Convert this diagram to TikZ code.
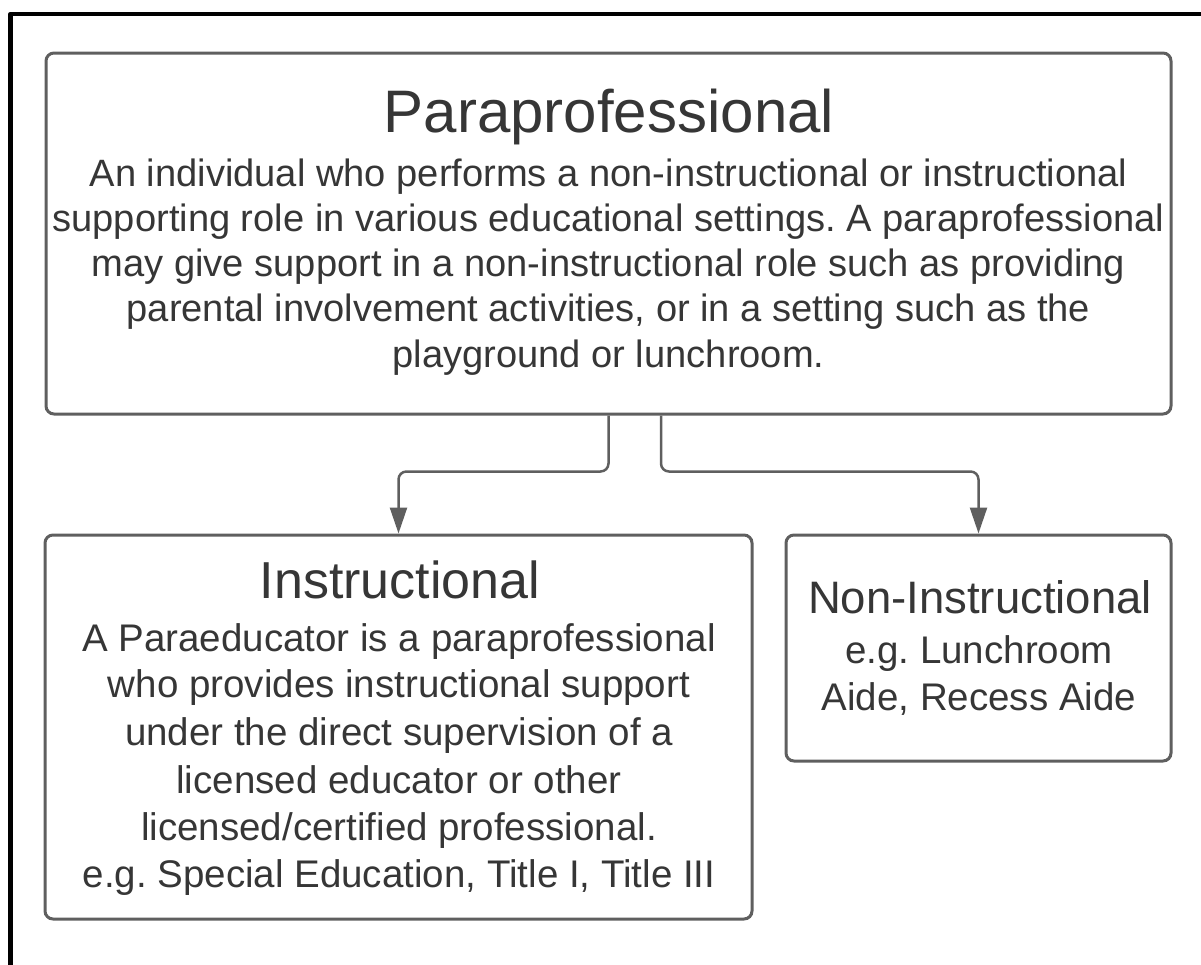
\documentclass[tikz,border=0pt]{standalone}
\usepackage{fontspec}
\setmainfont{Liberation Sans}
\usetikzlibrary{arrows.meta}
\definecolor{edge}{HTML}{5F5F5F}
\definecolor{txt}{HTML}{363636}
\frenchspacing
\tikzset{
  box/.style={draw=edge, line width=3pt, rounded corners=8pt, inner sep=0pt, fill=white},
  conn/.style={draw=edge, line width=2.5pt, rounded corners=8pt,
    -{Triangle[length=26pt, width=17pt, fill=edge]}},
  ttl/.style={anchor=base, inner sep=0pt, text=txt},
  ln/.style={anchor=base, inner sep=0pt, text=txt, font=\fontsize{38.5}{46}\selectfont},
  lntop/.style={ln, font=\fontsize{38.1}{46}\selectfont},
}
\begin{document}
\begin{tikzpicture}[x=1pt,y=-1pt]
\useasboundingbox (0,0) rectangle (1201,964);
% outer frame
\draw[line width=4.5pt, black, line join=round] (10.5,966) -- (10.5,14) -- (1203,14);
% boxes
\node[box, minimum width=1125pt, minimum height=361pt] (top) at (608.5,233.5) {};
\node[box, minimum width=707pt, minimum height=384pt] (instr) at (398.5,727) {};
\node[box, minimum width=385pt, minimum height=226pt] (non) at (978.5,648) {};
% connectors
\draw[conn] (top.south) -- ++(0,56) -| (instr.north);
\draw[conn] ([xshift=52.5pt]top.south) -- ++(0,56) -| (non.north);
% top box text
\node[ttl, font=\fontsize{60}{70}\selectfont] (t0) at (609,132) {Paraprofessional};
\node[lntop] (t1) at (608.5,186) {An individual who performs a non-instructional or instructional};
\node[lntop] (t2) at (608.5,231) {supporting role in various educational settings. A paraprofessional};
\node[lntop] (t3) at (608.5,276) {may give support in a non-instructional role such as providing};
\node[lntop] (t4) at (608.5,321) {parental involvement activities, or in a setting such as the};
\node[lntop] (t5) at (608.5,367) {playground or lunchroom.};
% instructional text
\node[ttl, font=\fontsize{52}{60}\selectfont] (i0) at (400,598) {Instructional};
\node[ln] (i1) at (399,651) {A Paraeducator is a paraprofessional};
\node[ln] (i2) at (399,697) {who provides instructional support};
\node[ln] (i3) at (399,745) {under the direct supervision of a};
\node[ln] (i4) at (399,793) {licensed educator or other};
\node[ln] (i5) at (399,840) {licensed/certified professional.};
\node[ln] (i6) at (399,887) {e.g. Special Education, Title I, Title III};
% non-instructional text
\node[ttl, font=\fontsize{45.5}{54}\selectfont] (n0) at (980,613) {Non-Instructional};
\node[ln] (n1) at (979,663) {e.g. Lunchroom};
\node[ln] (n2) at (979,710) {Aide, Recess Aide};
\end{tikzpicture}
\end{document}
